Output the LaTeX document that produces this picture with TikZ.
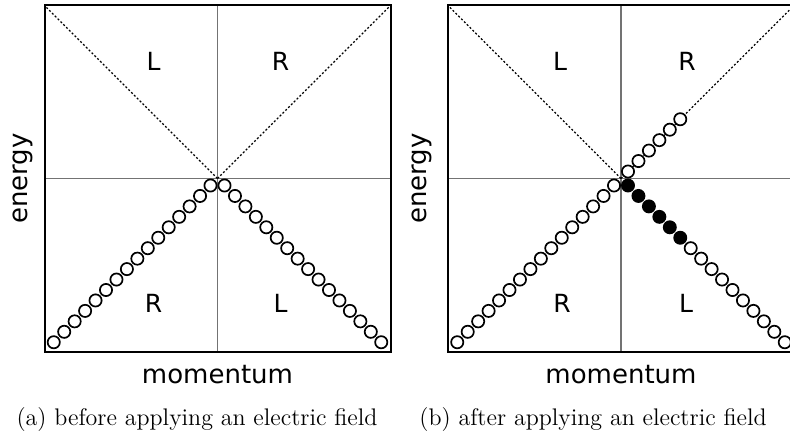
\documentclass[tikz,border=0pt]{standalone}
\usepackage{fontspec}
\newfontfamily\labelfont{DejaVu Sans}

\begin{document}
\begin{tikzpicture}[x=0.5pt,y=-0.5pt,
  frame/.style={line width=1pt},
  axis/.style={black!55,line width=0.55pt},
  guide/.style={line width=0.6pt,dash pattern=on 1pt off 1pt},
  state/.style={line width=0.85pt,fill=white},
  hole/.style={line width=0.85pt,fill=black},
  branch/.style={font=\labelfont\fontsize{12.5}{14}\selectfont},
  axislabel/.style={font=\labelfont\fontsize{13}{15}\selectfont},
  caption/.style={font=\fontsize{12}{14}\selectfont,anchor=base}]

\useasboundingbox (0,0) rectangle (790,442);
\clip (0,0) rectangle (790,442);

% (a) before the field
\begin{scope}[shift={(217.5,178.5)}]
\coordinate (a-o) at (0,0);
\coordinate (a-nw) at (-173,-173);
\coordinate (a-ne) at (173,-173);
\coordinate (a-sw) at (-173,173);
\draw[axis] (0,-173) -- (0,173);
\draw[axis] (-173,0) -- (173,0);
\draw[guide] (a-o) -- (a-nw);
\draw[guide] (a-o) -- (a-ne);
\draw[frame] (a-sw) rectangle (a-ne);
\foreach \j in {0,...,15} {
  \pgfmathsetmacro\d{7+10.45*\j}
  \draw[state] (-\d,\d) circle[radius=3.05pt];
  \draw[state] (\d,\d) circle[radius=3.05pt];
}
\node[branch] (a-ul) at (-64,-117) {L};
\node[branch] (a-ur) at (63,-117) {R};
\node[branch] (a-lr) at (-64,124.5) {R};
\node[branch] (a-ll) at (63,124.5) {L};
\node[axislabel,rotate=90] (a-energy) at (-194.5,0) {energy};
\node[axislabel] (a-momentum) at (0,196) {momentum};
\end{scope}
\node[caption] (a-caption) at (197,425) {(a) before applying an electric field};

% (b) after the field
\begin{scope}[shift={(621,178.5)}]
\coordinate (b-o) at (0,0);
\coordinate (b-nw) at (-173,-173);
\coordinate (b-ne) at (173,-173);
\coordinate (b-sw) at (-173,173);
\draw[axis] (0,-173) -- (0,173);
\draw[axis] (-173,0) -- (173,0);
\draw[guide] (b-o) -- (b-nw);
\draw[guide] (b-o) -- (b-ne);
\draw[frame] (b-sw) rectangle (b-ne);
\foreach \j in {0,...,15} {
  \pgfmathsetmacro\d{7+10.45*\j}
  \draw[state] (-\d,\d) circle[radius=3.05pt];
}
\foreach \j in {0,...,5} {
  \pgfmathsetmacro\d{7+10.45*\j}
  \draw[state] (\d,-\d) circle[radius=3.05pt];
  \draw[hole] (\d,\d) circle[radius=3.05pt];
}
\foreach \j in {6,...,15} {
  \pgfmathsetmacro\d{7+10.45*\j}
  \draw[state] (\d,\d) circle[radius=3.05pt];
}
\node[branch] (b-ul) at (-61,-117) {L};
\node[branch] (b-ur) at (66,-117) {R};
\node[branch] (b-lr) at (-59,124.5) {R};
\node[branch] (b-ll) at (65,124.5) {L};
\node[axislabel,rotate=90] (b-energy) at (-199.5,0) {energy};
\node[axislabel] (b-momentum) at (0,196) {momentum};
\end{scope}
\node[caption] (b-caption) at (593,425) {(b) after applying an electric field};

\end{tikzpicture}
\end{document}
